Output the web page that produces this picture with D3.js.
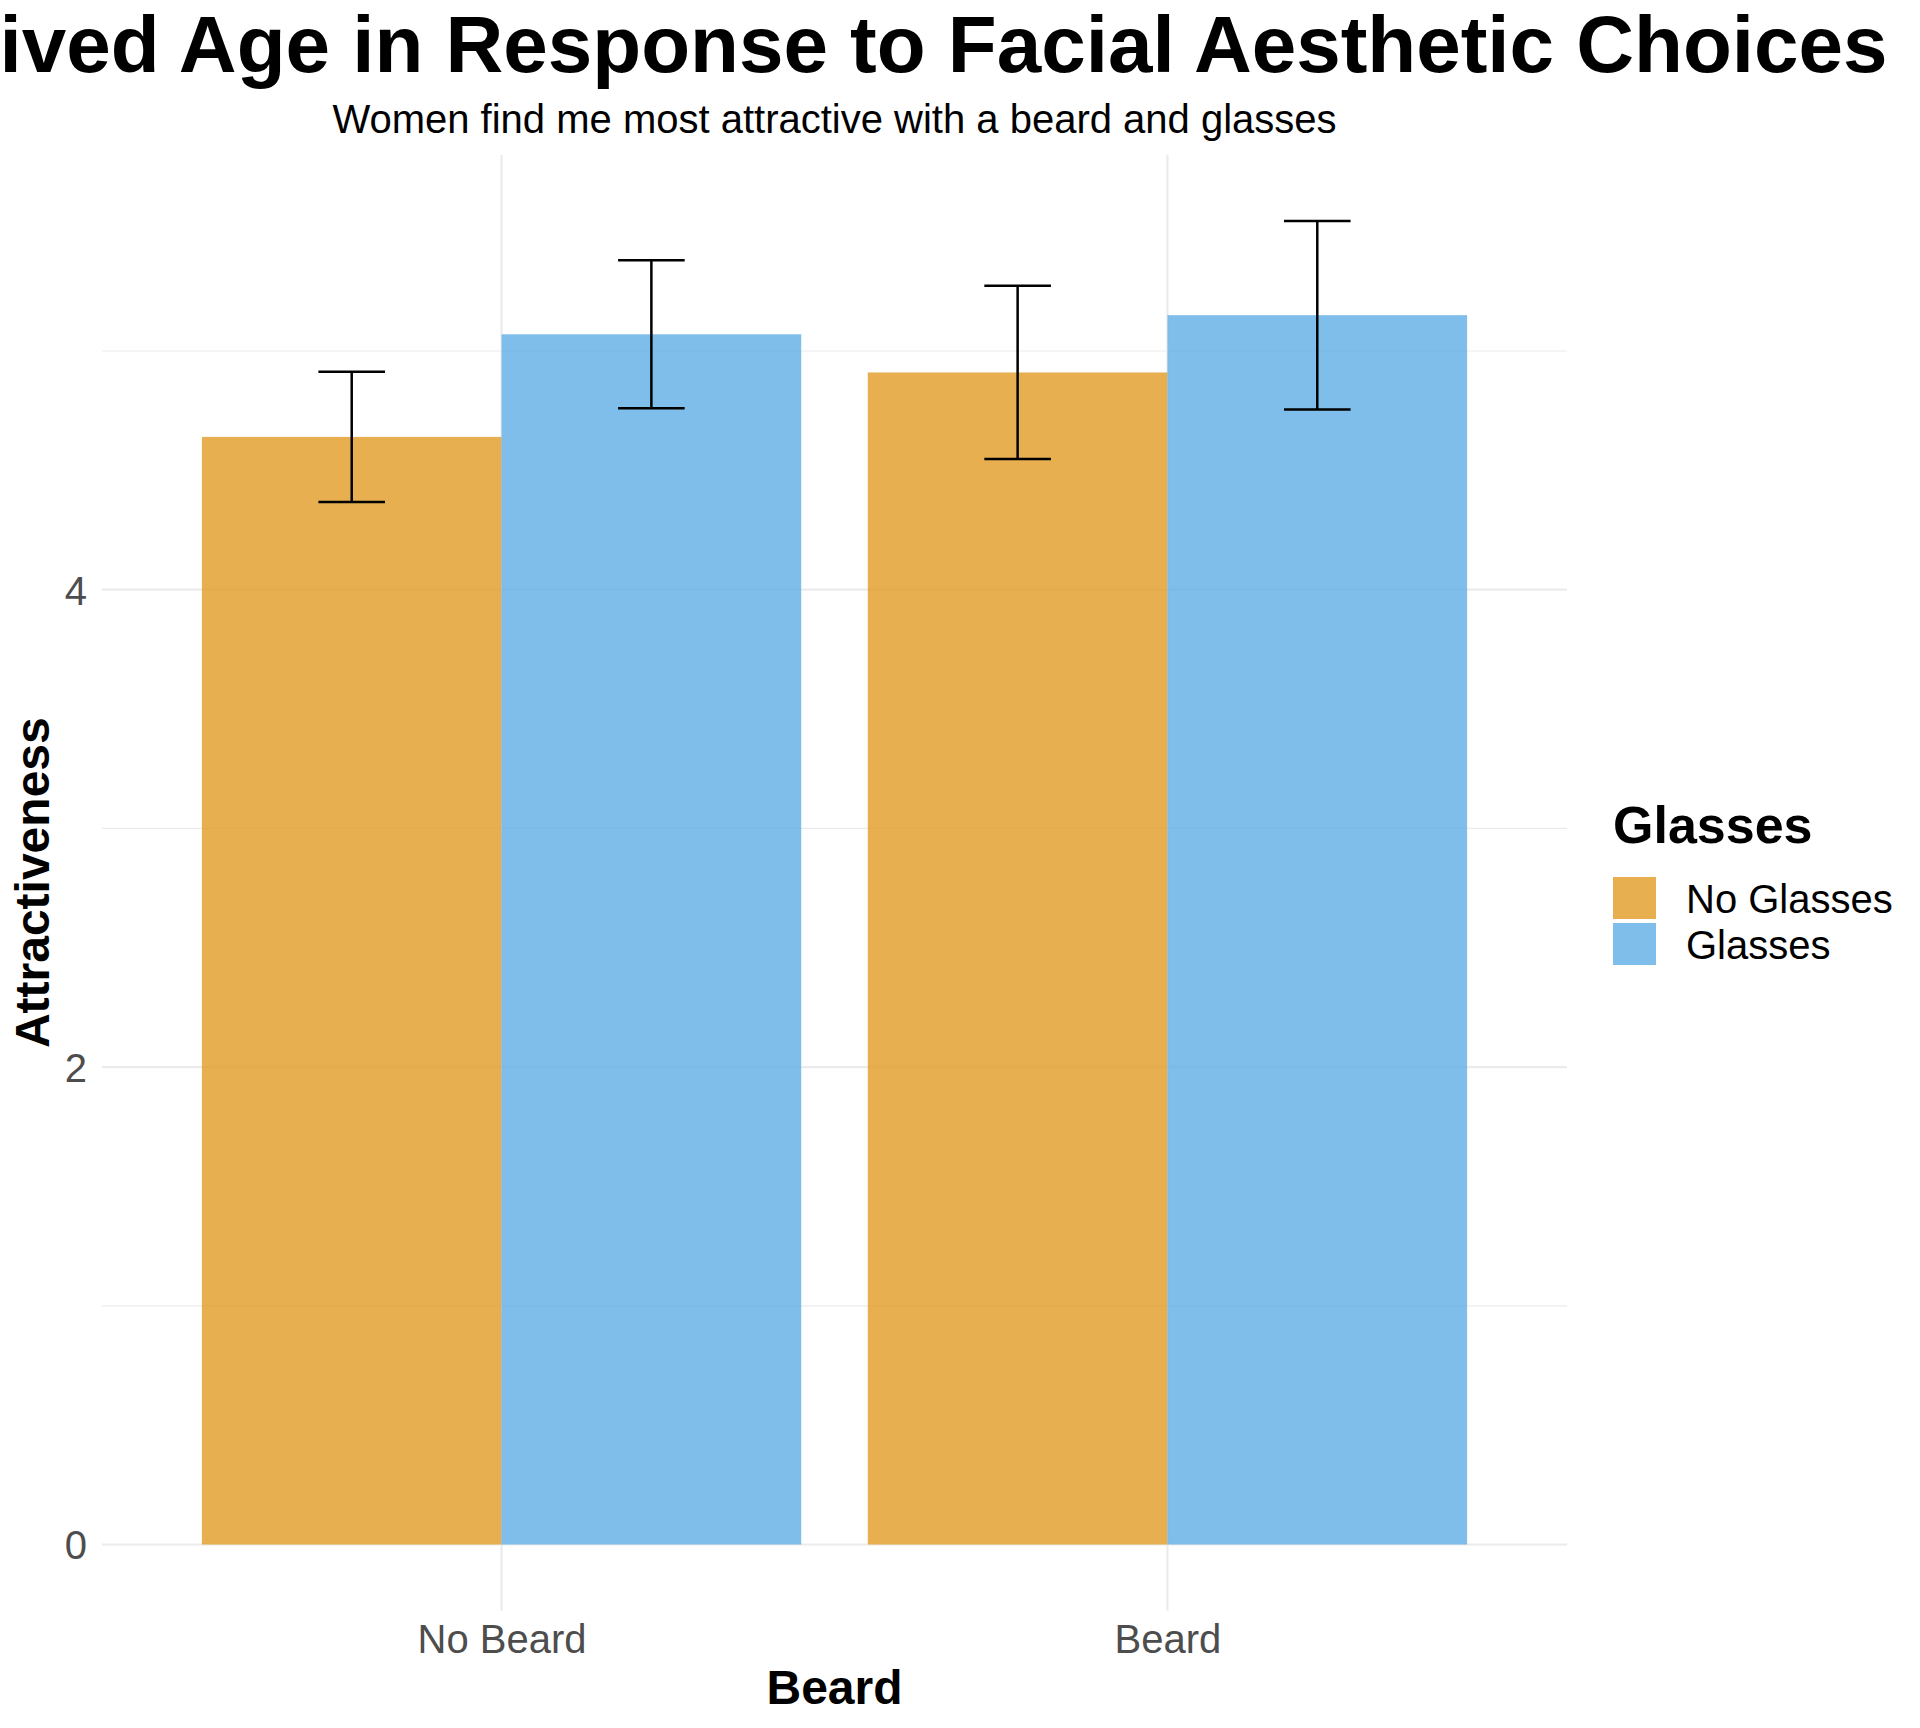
<!DOCTYPE html>
<html>
<head>
<meta charset="utf-8">
<script src="https://cdn.jsdelivr.net/npm/d3@7"></script>
<style>
  html, body { margin: 0; padding: 0; background: #fff; }
  svg { display: block; font-family: "Liberation Sans", Arial, Helvetica, sans-serif; }
</style>
</head>
<body>
<svg id="chart" width="1920" height="1728"></svg>
<script>
// ---- data ----
const beardCategories = ["No Beard", "Beard"];
const glassesCategories = ["No Glasses", "Glasses"];
const meanNoGlasses = [4.64, 4.91];
const meanGlasses = [5.07, 5.15];
const seNoGlasses = [0.273, 0.363];
const seGlasses = [0.31, 0.395];
const majorTicks = [0, 2, 4];
const minorTicks = [1, 3, 5];
const titleText = "Perceived Age in Response to Facial Aesthetic Choices";
const subtitleText = "Women find me most attractive with a beard and glasses";
const xTitle = "Beard";
const yTitle = "Attractiveness";
const legendTitle = "Glasses";

// ---- build rows ----
const rows = [];
beardCategories.forEach((b, i) => {
  rows.push({ beard: b, glasses: glassesCategories[0], mean: meanNoGlasses[i], se: seNoGlasses[i] });
  rows.push({ beard: b, glasses: glassesCategories[1], mean: meanGlasses[i], se: seGlasses[i] });
});

const fillColors = ["#E19B24", "#5FAEE5"];
const color = d3.scaleOrdinal().domain(glassesCategories).range(fillColors);

const svg = d3.select("#chart");
const panel = { left: 102, right: 1567, top: 154.7, bottom: 1610.7 };

const x = d3.scalePoint().domain(beardCategories).range([panel.left, panel.right]).padding(0.6);
const step = x.step();
const dodge = d3.scaleBand().domain(glassesCategories).range([-0.45 * step, 0.45 * step]).padding(0);

const yMax = d3.max(rows, d => d.mean + d.se);
const yMin = 0;
const pad = (yMax - yMin) * 0.05;
const y = d3.scaleLinear().domain([yMin - pad, yMax + pad]).range([panel.bottom, panel.top]);

const grid = svg.append("g");
grid.selectAll("line.minor").data(minorTicks).join("line")
  .attr("x1", panel.left).attr("x2", panel.right)
  .attr("y1", d => y(d)).attr("y2", d => y(d))
  .attr("stroke", "#ebebeb").attr("stroke-width", 1.2);
grid.selectAll("line.major").data(majorTicks).join("line")
  .attr("x1", panel.left).attr("x2", panel.right)
  .attr("y1", d => y(d)).attr("y2", d => y(d))
  .attr("stroke", "#ebebeb").attr("stroke-width", 2.2);
grid.selectAll("line.v").data(beardCategories).join("line")
  .attr("x1", d => x(d)).attr("x2", d => x(d))
  .attr("y1", panel.top).attr("y2", panel.bottom)
  .attr("stroke", "#ebebeb").attr("stroke-width", 2.2);

// bars
svg.append("g").selectAll("rect").data(rows).join("rect")
  .attr("x", d => x(d.beard) + dodge(d.glasses))
  .attr("width", dodge.bandwidth())
  .attr("y", d => y(d.mean))
  .attr("height", d => y(0) - y(d.mean))
  .attr("fill", d => color(d.glasses))
  .attr("fill-opacity", 0.8);

// error bars
const capHalf = 0.05 * step;
const eb = svg.append("g").attr("stroke", "#000").attr("stroke-width", 2.5).attr("fill", "none");
rows.forEach(d => {
  const cx = x(d.beard) + dodge(d.glasses) + dodge.bandwidth() / 2;
  const yt = y(d.mean + d.se), yb = y(d.mean - d.se);
  eb.append("line").attr("x1", cx).attr("x2", cx).attr("y1", yt).attr("y2", yb);
  eb.append("line").attr("x1", cx - capHalf).attr("x2", cx + capHalf).attr("y1", yt).attr("y2", yt);
  eb.append("line").attr("x1", cx - capHalf).attr("x2", cx + capHalf).attr("y1", yb).attr("y2", yb);
});

// y axis tick labels
const yAxis = d3.axisLeft(y).tickValues(majorTicks).tickFormat(d3.format("d")).tickSize(0).tickPadding(0);
const yAxisG = svg.append("g").attr("transform", `translate(${87},0)`).call(yAxis);
yAxisG.select(".domain").remove();
yAxisG.selectAll("text").attr("font-size", 40).attr("fill", "#4d4d4d")
  .attr("font-family", "'Liberation Sans', Arial, sans-serif").attr("dy", "0.36em");

// x axis tick labels
const xAxis = d3.axisBottom(x).tickSize(0).tickPadding(0);
const xAxisG = svg.append("g").attr("transform", `translate(0,${1653})`).call(xAxis);
xAxisG.select(".domain").remove();
xAxisG.selectAll("text").attr("font-size", 40).attr("fill", "#4d4d4d")
  .attr("font-family", "'Liberation Sans', Arial, sans-serif").attr("dy", 0).attr("y", 0);

const cx = (panel.left + panel.right) / 2;
const cy = (panel.top + panel.bottom) / 2;

// titles (title is wider than the page and clipped at the edges, as in the original)
svg.append("text").attr("x", cx).attr("y", 72).attr("text-anchor", "middle")
  .attr("font-size", 80).attr("font-weight", "bold").attr("fill", "#000").text(titleText);
svg.append("text").attr("x", cx).attr("y", 133).attr("text-anchor", "middle")
  .attr("font-size", 40).attr("fill", "#000").text(subtitleText);
svg.append("text").attr("x", cx).attr("y", 1704).attr("text-anchor", "middle")
  .attr("font-size", 48).attr("font-weight", "bold").attr("fill", "#000").text(xTitle);
svg.append("text").attr("transform", `translate(49,${cy}) rotate(-90)`).attr("text-anchor", "middle")
  .attr("font-size", 48).attr("font-weight", "bold").attr("fill", "#000").text(yTitle);

// legend
const lg = svg.append("g");
lg.append("text").attr("x", 1613).attr("y", 843).attr("font-size", 52).attr("font-weight", "bold")
  .attr("fill", "#000").text(legendTitle);
glassesCategories.forEach((g, i) => {
  const top = 877 + i * 46;
  lg.append("rect").attr("x", 1613).attr("y", top).attr("width", 43).attr("height", 42)
    .attr("fill", color(g)).attr("fill-opacity", 0.8);
  lg.append("text").attr("x", 1686).attr("y", top + 36).attr("font-size", 40).attr("fill", "#000").text(g);
});
</script>
</body>
</html>
